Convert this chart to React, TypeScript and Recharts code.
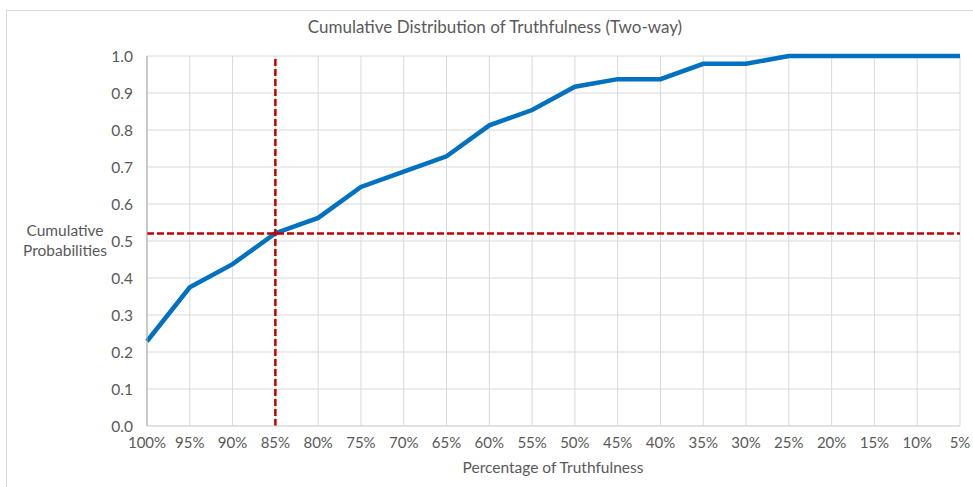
import React from 'react';
import { LineChart, Line, XAxis, YAxis, CartesianGrid, ReferenceLine } from 'recharts';

const categories = ['100%', '95%', '90%', '85%', '80%', '75%', '70%', '65%', '60%', '55%', '50%', '45%', '40%', '35%', '30%', '25%', '20%', '15%', '10%', '5%'];
const cumulative = [0.229, 0.375, 0.4375, 0.521, 0.5625, 0.646, 0.6875, 0.729, 0.8125, 0.854, 0.917, 0.9375, 0.9375, 0.979, 0.979, 1.0, 1.0, 1.0, 1.0, 1.0];
const yTicks = [0, 0.1, 0.2, 0.3, 0.4, 0.5, 0.6, 0.7, 0.8, 0.9, 1.0];
const markerCategory = '85%';
const markerValue = 0.52;

const data = categories.map((c, i) => ({ cat: c, value: cumulative[i] }));

const FONT = 'Lato, "Open Sans", sans-serif';
const TEXT = '#595959';

export default function App() {
  return (
    <div style={{ position: 'absolute', left: 0, top: 0, width: 973, height: 487, background: '#fff', fontFamily: FONT, overflow: 'hidden' }}>
      <div style={{ position: 'absolute', left: 6, top: 10, width: 1000, height: 600, border: '1px solid #d9d9d9' }} />
      <div style={{ position: 'absolute', left: 0, top: 16, width: 990, textAlign: 'center', fontSize: 17, color: TEXT }}>
        Cumulative Distribution of Truthfulness (Two-way)
      </div>
      <div style={{ position: 'absolute', left: 14, top: 220, width: 102, textAlign: 'center', fontSize: 15.5, lineHeight: '20px', color: TEXT }}>
        Cumulative<br />Probabilities
      </div>
      <div style={{ position: 'absolute', left: 353, top: 458, width: 400, textAlign: 'center', fontSize: 15.5, color: TEXT }}>
        Percentage of Truthfulness
      </div>
      <div style={{ position: 'absolute', left: 0, top: 0 }}>
        <LineChart width={973} height={487} data={data} margin={{ top: 56, right: 13, bottom: 0, left: 0 }}>
          <CartesianGrid stroke="#d9d9d9" strokeWidth={1} />
          <XAxis
            dataKey="cat"
            interval={0}
            tickLine={false}
            axisLine={{ stroke: '#d9d9d9' }}
            tick={{ fill: TEXT, fontSize: 15, fontFamily: FONT }}
            tickMargin={5}
            height={61}
          />
          <XAxis xAxisId="top" dataKey="cat" orientation="top" height={0} tick={false} tickLine={false} axisLine={{ stroke: '#a6a6a6' }} />
          <YAxis
            domain={[0, 1]}
            ticks={yTicks}
            tickFormatter={(v: number) => v.toFixed(1)}
            tickLine={false}
            axisLine={{ stroke: '#a6a6a6' }}
            tick={{ fill: TEXT, fontSize: 15.5, fontFamily: FONT }}
            tickMargin={8}
            width={147}
          />
          <YAxis yAxisId="right" orientation="right" width={0} tick={false} tickLine={false} axisLine={{ stroke: '#a6a6a6' }} />
          <Line
            type="linear"
            dataKey="value"
            stroke="#0070C0"
            strokeWidth={4.5}
            dot={false}
            activeDot={false}
            isAnimationActive={false}
          />
          <ReferenceLine x={markerCategory} stroke="#C00000" strokeWidth={2.5} strokeDasharray="7 3" />
          <ReferenceLine y={markerValue} stroke="#C00000" strokeWidth={2.5} strokeDasharray="7 3" />
        </LineChart>
      </div>
    </div>
  );
}
